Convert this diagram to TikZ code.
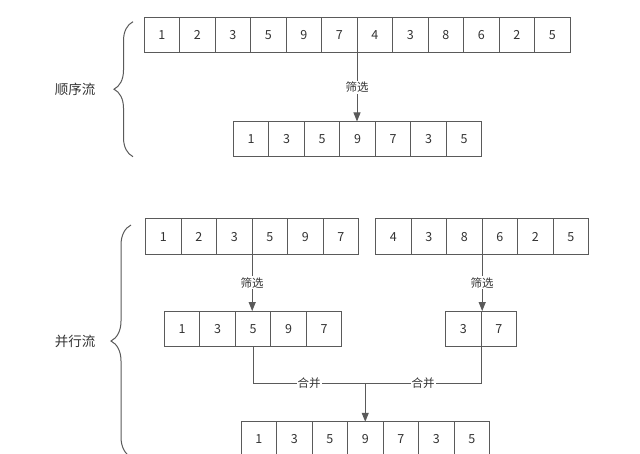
\documentclass[tikz,border=0pt]{standalone}
\usepackage{fontspec}
\setmainfont{Noto Sans CJK SC}
\usetikzlibrary{positioning,arrows.meta,decorations.pathreplacing}
\definecolor{linegray}{HTML}{5A5A5A}
\definecolor{textgray}{HTML}{333333}

\begin{document}
\begin{tikzpicture}[x=1pt,y=-1pt,>={Triangle[length=9pt,width=7pt]}]
\tikzstyle{cell}=[shape=rectangle,draw=linegray,line width=1pt,minimum size=35.5pt,inner sep=0pt,outer sep=0pt,text=textgray,font=\fontsize{12.5}{14}\selectfont]
\tikzstyle{lbl}=[fill=white,inner sep=1pt,text=textgray,font=\fontsize{11.5}{13}\selectfont]
\tikzstyle{title}=[text=textgray,font=\fontsize{13.5}{15}\selectfont]
\tikzstyle{flow}=[draw=linegray,line width=1pt]

\clip (0,0) rectangle (640,453);
\fill[white] (0,0) rectangle (640,453);

% sequential stream
\coordinate (s0) at (144,35.2);
\node[cell, right=0pt of s0] (s1) {1};
\node[cell, right=0pt of s1] (s2) {2};
\node[cell, right=0pt of s2] (s3) {3};
\node[cell, right=0pt of s3] (s4) {5};
\node[cell, right=0pt of s4] (s5) {9};
\node[cell, right=0pt of s5] (s6) {7};
\node[cell, right=0pt of s6] (s7) {4};
\node[cell, right=0pt of s7] (s8) {3};
\node[cell, right=0pt of s8] (s9) {8};
\node[cell, right=0pt of s9] (s10) {6};
\node[cell, right=0pt of s10] (s11) {2};
\node[cell, right=0pt of s11] (s12) {5};

\coordinate (f0) at (233.3,139.2);
\node[cell, right=0pt of f0] (f1) {1};
\node[cell, right=0pt of f1] (f2) {3};
\node[cell, right=0pt of f2] (f3) {5};
\node[cell, right=0pt of f3] (f4) {9};
\node[cell, right=0pt of f4] (f5) {7};
\node[cell, right=0pt of f5] (f6) {3};
\node[cell, right=0pt of f6] (f7) {5};

\draw[->,flow] (s6.south east) -- node[lbl] {筛选} (s6.south east |- f4.north);

\draw[flow, decorate, decoration={brace, amplitude=19pt}] (133,156.7) -- (133,21.7);
\node[title] (seq) at (75,89) {顺序流};

% parallel stream
\coordinate (p0) at (145.7,236.7);
\node[cell, right=0pt of p0] (p1) {1};
\node[cell, right=0pt of p1] (p2) {2};
\node[cell, right=0pt of p2] (p3) {3};
\node[cell, right=0pt of p3] (p4) {5};
\node[cell, right=0pt of p4] (p5) {9};
\node[cell, right=0pt of p5] (p6) {7};

\coordinate (q0) at (375.7,236.7);
\node[cell, right=0pt of q0] (q1) {4};
\node[cell, right=0pt of q1] (q2) {3};
\node[cell, right=0pt of q2] (q3) {8};
\node[cell, right=0pt of q3] (q4) {6};
\node[cell, right=0pt of q4] (q5) {2};
\node[cell, right=0pt of q5] (q6) {5};

\coordinate (r0) at (164.3,328.8);
\node[cell, right=0pt of r0] (r1) {1};
\node[cell, right=0pt of r1] (r2) {3};
\node[cell, right=0pt of r2] (r3) {5};
\node[cell, right=0pt of r3] (r4) {9};
\node[cell, right=0pt of r4] (r5) {7};

\coordinate (t0) at (445.7,328.8);
\node[cell, right=0pt of t0] (t1) {3};
\node[cell, right=0pt of t1] (t2) {7};

\coordinate (m0) at (241,439.5);
\node[cell, right=0pt of m0] (m1) {1};
\node[cell, right=0pt of m1] (m2) {3};
\node[cell, right=0pt of m2] (m3) {5};
\node[cell, right=0pt of m3] (m4) {9};
\node[cell, right=0pt of m4] (m5) {7};
\node[cell, right=0pt of m5] (m6) {3};
\node[cell, right=0pt of m6] (m7) {5};

\draw[->,flow] (p3.south east) -- node[lbl] {筛选} (p3.south east |- r3.north);
\draw[->,flow] (q3.south east) -- node[lbl] {筛选} (q3.south east |- t1.north);

\coordinate[above=38.4pt of m4.north] (j);
\draw[flow] (r3.south) |- node[pos=0.75, lbl] {合并} (j);
\draw[flow] (t1.south east) |- node[pos=0.75, lbl] {合并} (j);
\draw[->,flow] (j) -- (m4.north);

\draw[flow, decorate, decoration={brace, amplitude=20pt}] (131,457) -- (131,225);
\node[title] (par) at (75,341) {并行流};
\end{tikzpicture}
\end{document}
